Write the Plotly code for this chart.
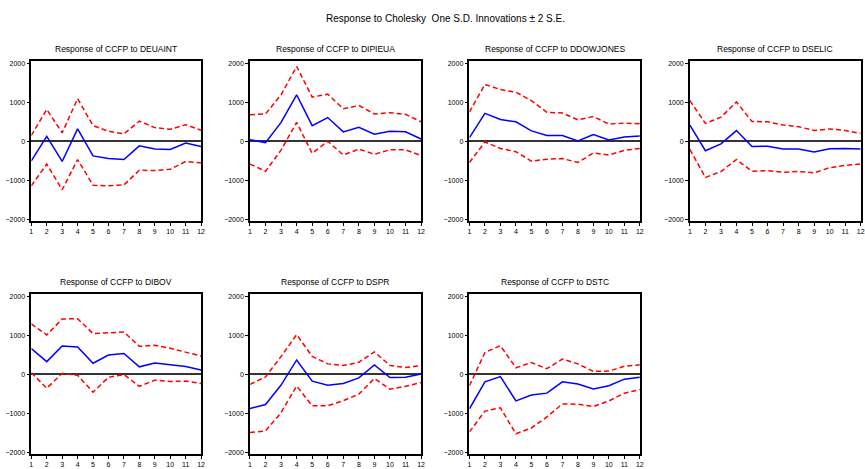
import plotly.graph_objects as go

periods = list(range(1, 13))

titles = ["Response of CCFP to DEUAINT", "Response of CCFP to DIPIEUA",
          "Response of CCFP to DDOWJONES", "Response of CCFP to DSELIC",
          "Response of CCFP to DIBOV", "Response of CCFP to DSPR",
          "Response of CCFP to DSTC"]

deuaint_resp = [-500, 125, -517, 317, -375, -440, -467, -117, -200, -208, -42, -133]
deuaint_up = [150, 817, 217, 1092, 400, 258, 192, 517, 350, 308, 425, 283]
deuaint_lo = [-1142, -583, -1242, -467, -1125, -1142, -1117, -742, -750, -717, -517, -550]

dipieua_resp = [42, -33, 483, 1192, 400, 608, 242, 358, 183, 258, 242, 58]
dipieua_up = [683, 700, 1192, 1917, 1133, 1208, 833, 917, 700, 733, 692, 500]
dipieua_lo = [-583, -767, -225, 483, -308, 0, -350, -200, -333, -217, -217, -367]

ddowjones_resp = [92, 717, 558, 500, 267, 150, 150, 8, 175, 33, 108, 133]
ddowjones_up = [750, 1458, 1325, 1258, 1042, 742, 725, 550, 633, 442, 467, 450]
ddowjones_lo = [-542, -17, -183, -267, -508, -458, -442, -542, -300, -350, -233, -183]

dselic_resp = [417, -242, -67, 275, -133, -125, -200, -200, -275, -192, -183, -200]
dselic_up = [1042, 458, 617, 1008, 508, 500, 417, 375, 275, 317, 275, 200]
dselic_lo = [-208, -925, -775, -467, -767, -750, -792, -775, -808, -675, -617, -583]

dibov_resp = [658, 325, 725, 700, 283, 492, 533, 192, 292, 250, 200, 108]
dibov_up = [1292, 1008, 1417, 1425, 1042, 1058, 1083, 717, 742, 667, 575, 467]
dibov_lo = [42, -358, 25, -25, -458, -75, -8, -308, -150, -183, -175, -233]

dspr_resp = [-875, -775, -275, 367, -175, -283, -233, -92, 242, -83, -75, 8]
dspr_up = [-258, -67, 458, 1017, 458, 267, 225, 308, 575, 225, 175, 225]
dspr_lo = [-1492, -1450, -983, -300, -808, -808, -675, -508, -108, -383, -308, -208]

dstc_resp = [-883, -192, -58, -683, -533, -483, -192, -250, -375, -292, -125, -75]
dstc_up = [-292, 558, 733, 167, 300, 142, 392, 267, 75, 83, 208, 242]
dstc_lo = [-1475, -942, -858, -1525, -1375, -1092, -758, -767, -825, -683, -483, -392]

y_ticks = [-2000, -1000, 0, 1000, 2000]

series = [
    (deuaint_resp, deuaint_up, deuaint_lo),
    (dipieua_resp, dipieua_up, dipieua_lo),
    (ddowjones_resp, ddowjones_up, ddowjones_lo),
    (dselic_resp, dselic_up, dselic_lo),
    (dibov_resp, dibov_up, dibov_lo),
    (dspr_resp, dspr_up, dspr_lo),
    (dstc_resp, dstc_up, dstc_lo),
]

W, H = 865, 469
# pixel boxes (left, right, top, bottom)
boxes = [
    (29.5, 200.5, 60, 221), (249.7, 422, 60, 221), (470.7, 642.3, 60, 221), (692.7, 864.7, 60, 221),
    (29.5, 200.5, 295, 456), (249.7, 422, 295, 456), (470.7, 642.3, 295, 456),
]

fig = go.Figure()
font = "Liberation Sans, Arial, sans-serif"
annotations = []
for i, ((resp, up, lo), box, title) in enumerate(zip(series, boxes, titles)):
    n = i + 1
    xa = "x" if n == 1 else f"x{n}"
    ya = "y" if n == 1 else f"y{n}"
    for vals, color, dash in [(up, "#FF0000", "dash"), (lo, "#FF0000", "dash"), (resp, "#0000FF", "solid")]:
        fig.add_trace(go.Scatter(x=periods, y=vals, mode="lines", xaxis=xa, yaxis=ya,
                                 line=dict(color=color, width=1.5, dash=dash if dash == "solid" else "5px,3px"),
                                 showlegend=False, hoverinfo="skip"))
    l, r, t, b = box
    xd = [l / W, min(r / W, 1.0)]
    yd = [1 - b / H, 1 - t / H]
    axis_common = dict(showline=True, linecolor="black", linewidth=1.5, mirror=True,
                       showgrid=False, ticks="outside", ticklen=3, tickwidth=1, tickcolor="black",
                       tickfont=dict(family=font, size=7, color="black"))
    fig.update_layout(**{
        ("xaxis" if n == 1 else f"xaxis{n}"): dict(domain=xd, anchor=ya, range=[1, 12],
                                                   tickvals=periods, zeroline=False, **axis_common),
        ("yaxis" if n == 1 else f"yaxis{n}"): dict(domain=yd, anchor=xa, range=[-2045, 2045],
                                                   tickvals=y_ticks, zeroline=True,
                                                   zerolinecolor="#333333", zerolinewidth=1.5,
                                                   **axis_common),
    })
    annotations.append(dict(text=title, x=(l + r) / 2 / W, y=1 - (t - 13) / H, xref="paper", yref="paper",
                            showarrow=False, font=dict(family=font, size=8.5, color="black"),
                            xanchor="center", yanchor="middle"))

annotations.append(dict(text="Response to Cholesky  One S.D. Innovations \u00b1 2 S.E.",
                        x=447 / W, y=1 - 17 / H, xref="paper", yref="paper", showarrow=False,
                        font=dict(family=font, size=10, color="black"), xanchor="center", yanchor="middle"))

fig.update_layout(width=W, height=H, margin=dict(l=0, r=0, t=0, b=0),
                  paper_bgcolor="white", plot_bgcolor="white", annotations=annotations)
fig.write_html("out.html", config={"displayModeBar": False},
               post_script="document.body.style.margin='0';document.body.style.overflow='hidden';")
